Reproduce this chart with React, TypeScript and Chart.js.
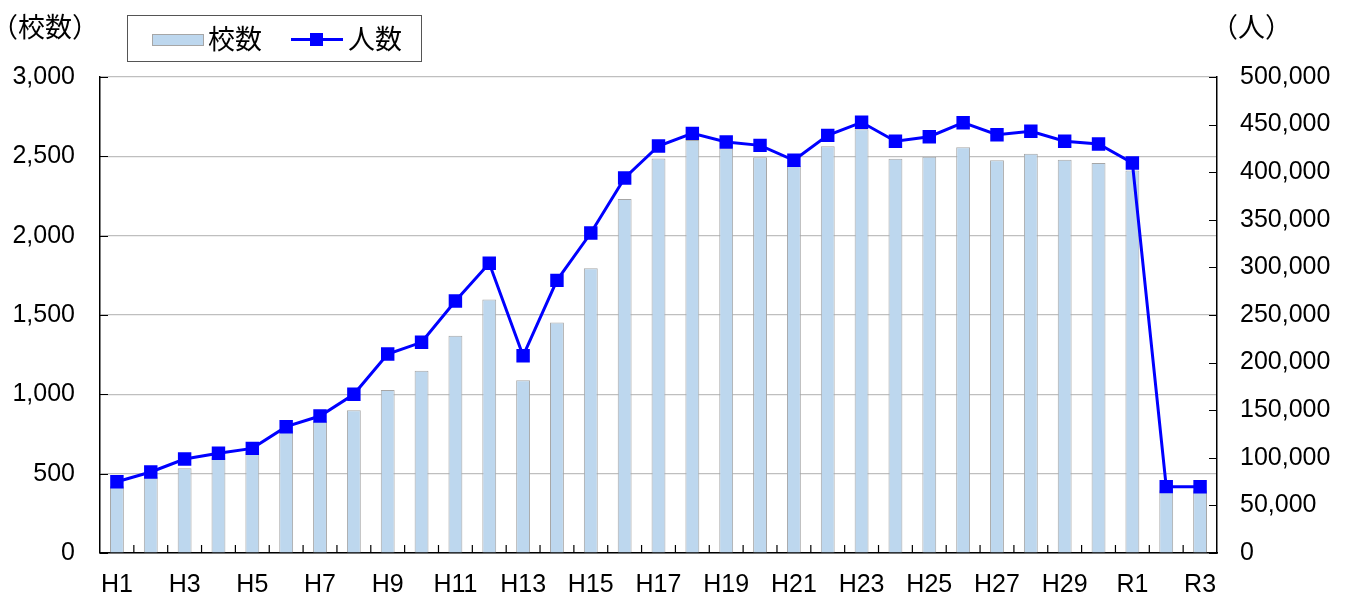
import React, { useEffect, useRef } from "react";
import { Chart, registerables } from "chart.js";

Chart.register(...registerables);

const categories = [
  "H1", "H2", "H3", "H4", "H5", "H6", "H7", "H8", "H9", "H10",
  "H11", "H12", "H13", "H14", "H15", "H16", "H17", "H18", "H19", "H20",
  "H21", "H22", "H23", "H24", "H25", "H26", "H27", "H28", "H29", "H30",
  "R1", "R2", "R3",
];

const schools = [
  420, 480, 534, 600, 640, 770, 830, 899, 1027, 1149,
  1369, 1597, 1088, 1452, 1794, 2231, 2487, 2603, 2550, 2494,
  2440, 2563, 2670, 2485, 2498, 2557, 2475, 2517, 2479, 2458,
  2410, 395, 395,
];

const students = [
  74900, 85100, 98700, 104700, 109900, 132700, 143900, 166700, 209000, 221300,
  264700, 304300, 207200, 286400, 336100, 393900, 427500, 440800, 431700, 428200,
  412500, 438700, 452400, 432500, 437300, 452000, 439400, 443000, 432500, 429600,
  409700, 69700, 69500,
];

const leftTitle = "（校数）";
const rightTitle = "（人）";
const schoolsLabel = "校数";
const studentsLabel = "人数";

const fmt = (v: number) => Number(v).toLocaleString("en-US");

const TICK_FONT = { family: "'Liberation Sans', Arial, sans-serif", size: 25 };
const JP_FONT = "'Noto Sans CJK JP', sans-serif";

const innerTicks = {
  id: "innerTicks",
  beforeDatasetsDraw(chart: any) {
    const { ctx, chartArea } = chart;
    const y = chart.scales.y;
    const y1 = chart.scales.y1;
    const x = chart.scales.x;
    ctx.save();
    ctx.strokeStyle = "#000";
    ctx.lineWidth = 1.2;
    ctx.beginPath();
    y.ticks.forEach((t: any) => {
      const p = Math.round(y.getPixelForValue(t.value)) + 0.5;
      ctx.moveTo(chartArea.left, p);
      ctx.lineTo(chartArea.left + 8, p);
    });
    y1.ticks.forEach((t: any) => {
      const p = Math.round(y1.getPixelForValue(t.value)) + 0.5;
      ctx.moveTo(chartArea.right - 8, p);
      ctx.lineTo(chartArea.right, p);
    });
    for (let i = 1; i < categories.length; i++) {
      const p = (x.getPixelForValue(i - 1) + x.getPixelForValue(i)) / 2;
      ctx.moveTo(p, chartArea.bottom);
      ctx.lineTo(p, chartArea.bottom - 8);
    }
    ctx.stroke();
    ctx.restore();
  },
};

export default function App() {
  const ref = useRef<HTMLCanvasElement | null>(null);

  useEffect(() => {
    if (!ref.current) return;
    const chart = new Chart(ref.current, {
      type: "bar",
      data: {
        labels: categories,
        datasets: [
          {
            type: "bar",
            label: schoolsLabel,
            data: schools,
            yAxisID: "y",
            backgroundColor: "#BDD7EE",
            borderColor: "#A6A6A6",
            borderWidth: 1,
            categoryPercentage: 1,
            barPercentage: 0.41,
            order: 2,
          },
          {
            type: "line",
            label: studentsLabel,
            data: students,
            yAxisID: "y1",
            borderColor: "#0000FF",
            backgroundColor: "#0000FF",
            borderWidth: 3,
            pointStyle: "rect",
            pointRadius: 9.5,
            pointBorderWidth: 0,
            pointBackgroundColor: "#0000FF",
            tension: 0,
            order: 1,
          },
        ] as any,
      },
      options: {
        responsive: false,
        animation: false,
        layout: { padding: { top: 77, left: 0, right: 0, bottom: 0 } },
        plugins: {
          legend: { display: false },
          tooltip: { enabled: false },
        },
        scales: {
          x: {
            offset: true,
            grid: { display: false, drawTicks: false },
            border: { display: true, color: "#000", width: 1.5 },
            ticks: {
              autoSkip: false,
              maxRotation: 0,
              padding: 17,
              color: "#000",
              font: TICK_FONT,
              callback: (_v: any, i: number) => (i % 2 === 0 ? categories[i] : ""),
            },
            afterFit: (s: any) => {
              s.height = 46;
            },
          },
          y: {
            position: "left",
            min: 0,
            max: 3000,
            ticks: {
              stepSize: 500,
              padding: 25,
              color: "#000",
              font: TICK_FONT,
              callback: (v: any) => fmt(v),
            },
            grid: { color: "#BFBFBF", lineWidth: 1.2, drawTicks: false },
            border: { display: true, color: "#000", width: 1.5 },
            afterFit: (s: any) => {
              s.width = 100;
            },
          },
          y1: {
            position: "right",
            min: 0,
            max: 500000,
            ticks: {
              stepSize: 50000,
              padding: 23,
              color: "#000",
              font: TICK_FONT,
              callback: (v: any) => fmt(v),
            },
            grid: { drawOnChartArea: false, drawTicks: false },
            border: { display: true, color: "#000", width: 1.5 },
            afterFit: (s: any) => {
              s.width = 129;
            },
          },
        },
      } as any,
      plugins: [innerTicks],
    });
    return () => chart.destroy();
  }, []);

  const textStyle: React.CSSProperties = {
    position: "absolute",
    fontFamily: JP_FONT,
    fontSize: 27,
    lineHeight: "27px",
    color: "#000",
    whiteSpace: "nowrap",
  };

  return (
    <div style={{ position: "fixed", left: 0, top: 0, width: 1346, height: 599, background: "#fff" }}>
      <canvas ref={ref} width={1346} height={599} style={{ position: "absolute", left: 0, top: 0 }} />
      <div style={{ ...textStyle, left: -9, top: 12 }}>{leftTitle}</div>
      <div style={{ ...textStyle, left: 1211, top: 12 }}>{rightTitle}</div>
      <div
        style={{
          position: "absolute",
          left: 127,
          top: 15,
          width: 293,
          height: 45,
          border: "1px solid #555",
          background: "#fff",
        }}
      >
        <div
          style={{
            position: "absolute",
            left: 24,
            top: 18,
            width: 50,
            height: 10,
            background: "#BDD7EE",
            border: "1px solid #A6A6A6",
          }}
        />
        <div style={{ ...textStyle, left: 80, top: 8 }}>{schoolsLabel}</div>
        <div style={{ position: "absolute", left: 163, top: 22, width: 52, height: 3, background: "#0000FF" }} />
        <div style={{ position: "absolute", left: 182, top: 17, width: 13, height: 13, background: "#0000FF" }} />
        <div style={{ ...textStyle, left: 220, top: 8 }}>{studentsLabel}</div>
      </div>
    </div>
  );
}
